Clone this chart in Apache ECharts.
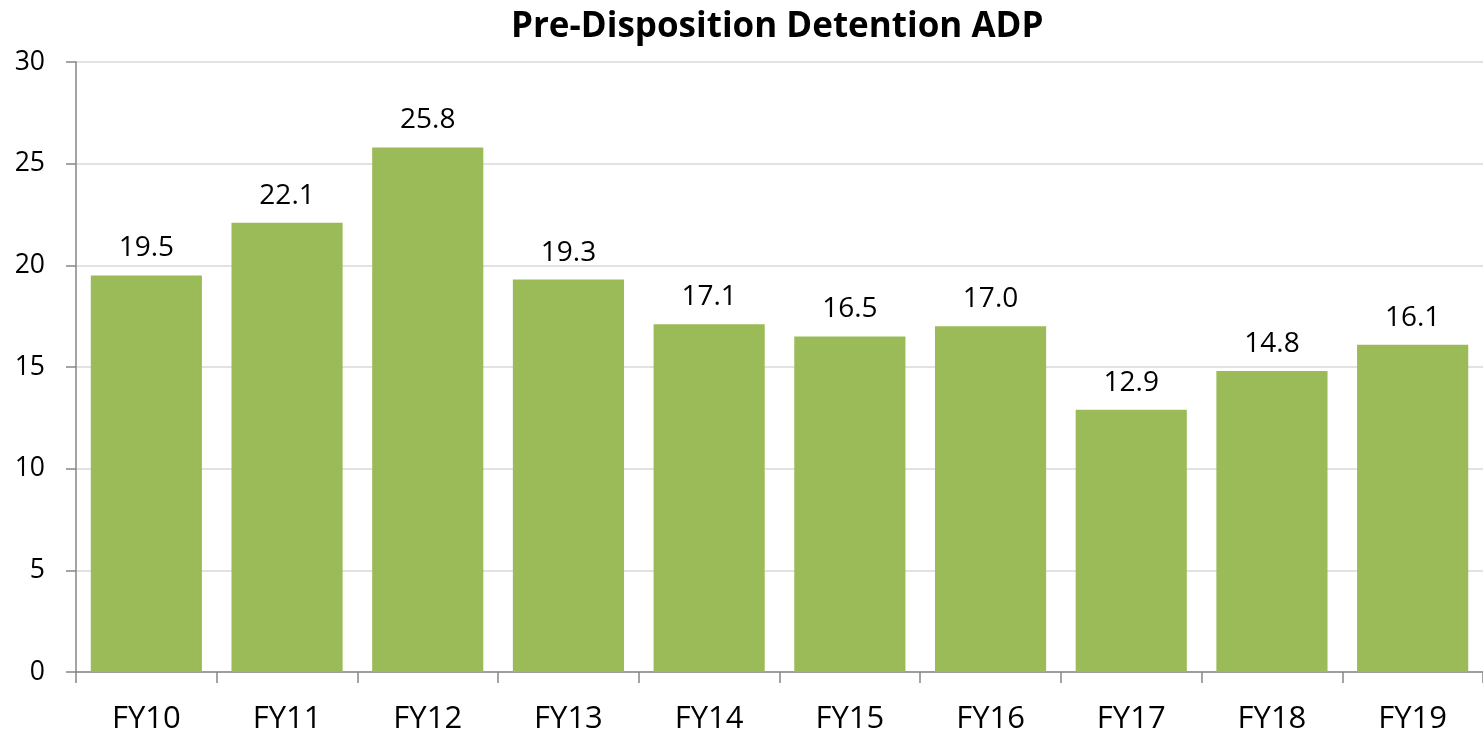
<!DOCTYPE html>
<html>
<head>
<meta charset="utf-8">
<script src="https://cdn.jsdelivr.net/npm/echarts@6/dist/echarts.min.js"></script>
<style>
  html, body { margin: 0; padding: 0; background: #fff; }
  #container { width: 1483px; height: 735px; }
</style>
</head>
<body>
<div id="container"></div>
<script>
var years = ['FY10', 'FY11', 'FY12', 'FY13', 'FY14', 'FY15', 'FY16', 'FY17', 'FY18', 'FY19'];
var adp = [19.5, 22.1, 25.8, 19.3, 17.1, 16.5, 17.0, 12.9, 14.8, 16.1];
var yTicks = [0, 5, 10, 15, 20, 25, 30];

var dom = document.getElementById('container');
var myChart = echarts.init(dom, null, { renderer: 'canvas' });
var fontFam = '"Open Sans", "Noto Sans", sans-serif';

var option = {
  backgroundColor: '#fff',
  animation: false,
  title: {
    text: 'Pre-Disposition Detention ADP',
    left: 506,
    top: 5,
    textStyle: { fontFamily: fontFam, fontSize: 35, fontWeight: 'bold', color: '#000' }
  },
  grid: { left: 76, right: 0, top: 62, bottom: 63 },
  xAxis: {
    type: 'category',
    data: years,
    axisLine: { lineStyle: { color: '#868686', width: 1.5 } },
    axisTick: { show: true, length: 11, lineStyle: { color: '#868686', width: 1.5 } },
    axisLabel: { margin: 32, fontFamily: fontFam, fontSize: 31, color: '#000' }
  },
  yAxis: {
    type: 'value',
    min: yTicks[0],
    max: yTicks[yTicks.length - 1],
    interval: 5,
    axisLine: { show: true, lineStyle: { color: '#868686', width: 1.5 } },
    axisTick: { show: true, length: 10, lineStyle: { color: '#868686', width: 1.5 } },
    splitLine: { lineStyle: { color: '#d9d9d9', width: 1.5 } },
    axisLabel: { margin: 31, fontFamily: fontFam, fontSize: 26.5, color: '#000' }
  },
  series: [{
    type: 'bar',
    data: adp,
    barCategoryGap: '21%',
    itemStyle: { color: '#9bbb59' },
    label: {
      show: true,
      position: 'top',
      distance: 13,
      fontFamily: fontFam,
      fontSize: 28,
      color: '#000',
      formatter: function (p) { return p.value.toFixed(1); }
    }
  }]
};

myChart.setOption(option);
window.addEventListener('resize', myChart.resize);
</script>
</body>
</html>
